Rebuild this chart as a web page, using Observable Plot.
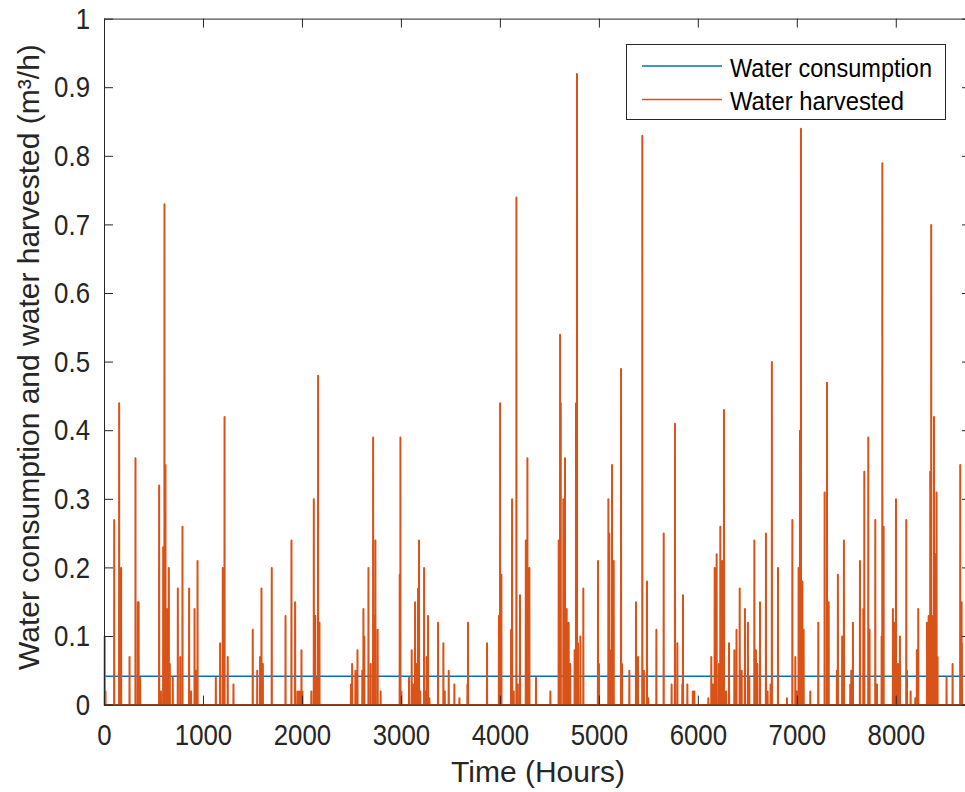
<!DOCTYPE html>
<html>
<head>
<meta charset="utf-8">
<script src="https://cdn.jsdelivr.net/npm/d3@7"></script>
<script src="https://cdn.jsdelivr.net/npm/@observablehq/plot@0.6"></script>
<style>
  html, body { margin: 0; padding: 0; background: #fff; overflow: hidden; }
  #wrap { position: relative; width: 965px; height: 792px; overflow: hidden; }
  #wrap svg { max-width: none; }
</style>
</head>
<body>
<div id="wrap"><div id="chart"></div></div>
<script>
// ---- data ----
const xTicks = [0, 1000, 2000, 3000, 4000, 5000, 6000, 7000, 8000];
const yTicks = [0, 0.1, 0.2, 0.3, 0.4, 0.5, 0.6, 0.7, 0.8, 0.9, 1];
const totalHours = 8760;
const xTitle = "Time (Hours)";
const yTitle = "Water consumption and water harvested (m³/h)";

const consumptionHours = [0, 8760];
const consumptionValues = [0.042, 0.042];

const harvestHours = [2, 10, 98, 148, 160, 168, 253, 313, 337, 345, 360, 552, 570, 593, 606, 616, 630, 650, 660, 690,
  741, 765, 788, 855, 875, 910, 925, 940, 1125, 1168, 1195, 1213, 1245, 1303, 1498, 1543, 1572, 1586, 1600, 1690,
  1829, 1889, 1926, 1950, 1970, 1990, 2000, 2090, 2115, 2130, 2145, 2158, 2172, 2490, 2502, 2535, 2556, 2605, 2616, 2625,
  2667, 2690, 2714, 2725, 2737, 2760, 2790, 2983, 2990, 3000, 3077, 3104, 3120, 3138, 3150, 3168, 3178, 3190, 3229, 3245,
  3255, 3269, 3283, 3370, 3424, 3438, 3478, 3535, 3586, 3667, 3673, 3865, 3985, 3997, 4010, 4108, 4118, 4135, 4162, 4175,
  4198, 4257, 4273, 4293, 4360, 4505, 4589, 4603, 4610, 4636, 4653, 4670, 4690, 4705, 4750, 4764, 4774, 4784, 4808, 4838,
  4986, 4996, 5091, 5101, 5111, 5128, 5145, 5219, 5229, 5303, 5370, 5390, 5434, 5450, 5481, 5494, 5576, 5650, 5730, 5764,
  5788, 5838, 5845, 5889, 5944, 5960, 6101, 6131, 6148, 6165, 6185, 6208, 6222, 6242, 6259, 6280, 6310, 6364, 6386, 6418,
  6438, 6471, 6501, 6515, 6566, 6582, 6596, 6623, 6683, 6700, 6730, 6743, 6805, 6895, 6950, 6980, 6993, 7013, 7027, 7037,
  7051, 7064, 7131, 7212, 7276, 7300, 7317, 7400, 7410, 7453, 7471, 7535, 7545, 7562, 7633, 7667, 7677, 7717, 7730, 7788,
  7805, 7852, 7859, 7872, 7966, 7980, 7997, 8017, 8037, 8101, 8108, 8145, 8192, 8208, 8222, 8310, 8327, 8343, 8353, 8363,
  8381, 8396, 8407, 8417, 8508, 8569, 8646, 8660, 8663];
const harvestValues = [0.10, 0.02, 0.27, 0.44, 0.12, 0.20, 0.07, 0.36, 0.15, 0.15, 0.04, 0.32, 0.02, 0.23, 0.73, 0.35, 0.14, 0.20, 0.06, 0.04,
  0.17, 0.07, 0.26, 0.17, 0.02, 0.14, 0.05, 0.21, 0.04, 0.09, 0.20, 0.42, 0.07, 0.03, 0.11, 0.05, 0.07, 0.17, 0.06, 0.20,
  0.13, 0.24, 0.15, 0.02, 0.02, 0.08, 0.02, 0.02, 0.30, 0.13, 0.04, 0.48, 0.12, 0.03, 0.06, 0.05, 0.08, 0.05, 0.14, 0.10,
  0.20, 0.06, 0.39, 0.13, 0.24, 0.11, 0.02, 0.19, 0.39, 0.02, 0.04, 0.08, 0.03, 0.15, 0.06, 0.17, 0.24, 0.02, 0.20, 0.02,
  0.07, 0.13, 0.01, 0.12, 0.09, 0.02, 0.05, 0.03, 0.01, 0.03, 0.12, 0.09, 0.13, 0.44, 0.19, 0.11, 0.30, 0.02, 0.74, 0.03,
  0.16, 0.24, 0.36, 0.20, 0.04, 0.02, 0.24, 0.54, 0.44, 0.30, 0.36, 0.14, 0.12, 0.06, 0.08, 0.44, 0.92, 0.09, 0.10, 0.17,
  0.21, 0.06, 0.30, 0.25, 0.08, 0.35, 0.21, 0.49, 0.06, 0.05, 0.15, 0.07, 0.83, 0.05, 0.18, 0.01, 0.11, 0.25, 0.03, 0.41,
  0.09, 0.03, 0.16, 0.03, 0.02, 0.02, 0.01, 0.07, 0.03, 0.20, 0.22, 0.06, 0.26, 0.21, 0.43, 0.02, 0.09, 0.08, 0.11, 0.17,
  0.05, 0.14, 0.12, 0.04, 0.24, 0.08, 0.06, 0.15, 0.25, 0.02, 0.03, 0.50, 0.20, 0.01, 0.27, 0.07, 0.02, 0.20, 0.40, 0.84,
  0.18, 0.11, 0.02, 0.12, 0.31, 0.47, 0.15, 0.05, 0.19, 0.10, 0.24, 0.03, 0.05, 0.12, 0.21, 0.14, 0.34, 0.39, 0.11, 0.27,
  0.03, 0.10, 0.79, 0.26, 0.14, 0.12, 0.30, 0.06, 0.10, 0.27, 0.05, 0.02, 0.01, 0.08, 0.14, 0.12, 0.13, 0.34, 0.70, 0.13,
  0.42, 0.22, 0.31, 0.07, 0.04, 0.06, 0.35, 0.15, 0.09];

const seriesNames = ["Water consumption", "Water harvested"];
const seriesColors = ["#0072BD", "#D95319"];

// ---- build tables ----
const harvestMap = new Map(harvestHours.map((h, i) => [h, harvestValues[i]]));
const harvested = d3.range(0, totalHours + 1).map(h => ({hour: h, value: harvestMap.get(h) ?? 0}));
const consumption = consumptionHours.map((h, i) => ({hour: h, value: consumptionValues[i]}));

const FONT = '"Liberation Sans", Arial, Helvetica, sans-serif';
const fmtY = d => String(+d.toFixed(1));
const W = 972, H = 792, ML = 104, MR = 1, MT = 18.6, MB = 87.4;
const FW = W - ML - MR, FH = H - MT - MB, TICK = 9;
const AXC = "#262626";

const chart = Plot.plot({
  width: W,
  height: H,
  marginLeft: ML,
  marginRight: MR,
  marginTop: MT,
  marginBottom: MB,
  style: {fontFamily: FONT, color: AXC, background: "#fff"},
  x: {domain: [0, totalHours], ticks: xTicks},
  y: {domain: [0, 1], ticks: yTicks},
  marks: [
    Plot.line(consumption, {x: "hour", y: "value", stroke: seriesColors[0], strokeWidth: 1.5}),
    Plot.line(harvested, {x: "hour", y: "value", stroke: seriesColors[1], strokeWidth: 2}),
    Plot.frame({stroke: AXC, strokeWidth: 1}),
    // inward ticks on all four sides
    Plot.tickX(xTicks, {x: d => d, insetTop: FH - TICK, stroke: AXC}),
    Plot.tickX(xTicks, {x: d => d, insetBottom: FH - TICK, stroke: AXC}),
    Plot.tickY(yTicks, {y: d => d, insetRight: FW - TICK, stroke: AXC}),
    Plot.tickY(yTicks, {y: d => d, insetLeft: FW - TICK, stroke: AXC}),
    Plot.axisX({anchor: "bottom", ticks: xTicks, tickSize: 0, tickPadding: 19, tickFormat: d => String(d), label: null, fontSize: 30}),
    Plot.axisY({anchor: "left", ticks: yTicks, tickSize: 0, tickPadding: 14.5, tickFormat: fmtY, label: null, fontSize: 30}),
    Plot.text([xTitle], {frameAnchor: "bottom", dy: 67, fontSize: 30, fill: AXC, lineAnchor: "middle", textAnchor: "middle"}),
    Plot.text([yTitle], {frameAnchor: "left", dx: -75, dy: -5, rotate: -90, fontSize: 30, fill: AXC, lineAnchor: "middle", textAnchor: "middle"})
  ]
});
document.getElementById("chart").appendChild(chart);

const svg = d3.select(chart);
// narrow the tick labels like the reference's condensed rendering
svg.selectAll('g[aria-label="x-axis tick label"] text, g[aria-label="y-axis tick label"] text').each(function () {
  const w = this.getComputedTextLength();
  d3.select(this).attr("textLength", w * 0.86).attr("lengthAdjust", "spacingAndGlyphs");
});

// ---- legend ----
const lg = svg.append("g").attr("font-family", FONT).attr("font-size", 26).attr("text-anchor", "start");
lg.append("rect").attr("x", 626.5).attr("y", 44.5).attr("width", 319).attr("height", 75)
  .attr("fill", "#fff").attr("stroke", AXC).attr("stroke-width", 1);
const legendTextWidth = [202, 174];
seriesNames.forEach((name, i) => {
  const cy = i === 0 ? 66 : 99.5;
  lg.append("line").attr("x1", 642).attr("x2", 722).attr("y1", cy).attr("y2", cy)
    .attr("stroke", seriesColors[i]).attr("stroke-width", 1.3);
  lg.append("text").attr("x", 730).attr("y", cy + 10.5).attr("fill", "#000").attr("text-anchor", "start")
    .attr("textLength", legendTextWidth[i]).attr("lengthAdjust", "spacingAndGlyphs")
    .text(name);
});
</script>
</body>
</html>
